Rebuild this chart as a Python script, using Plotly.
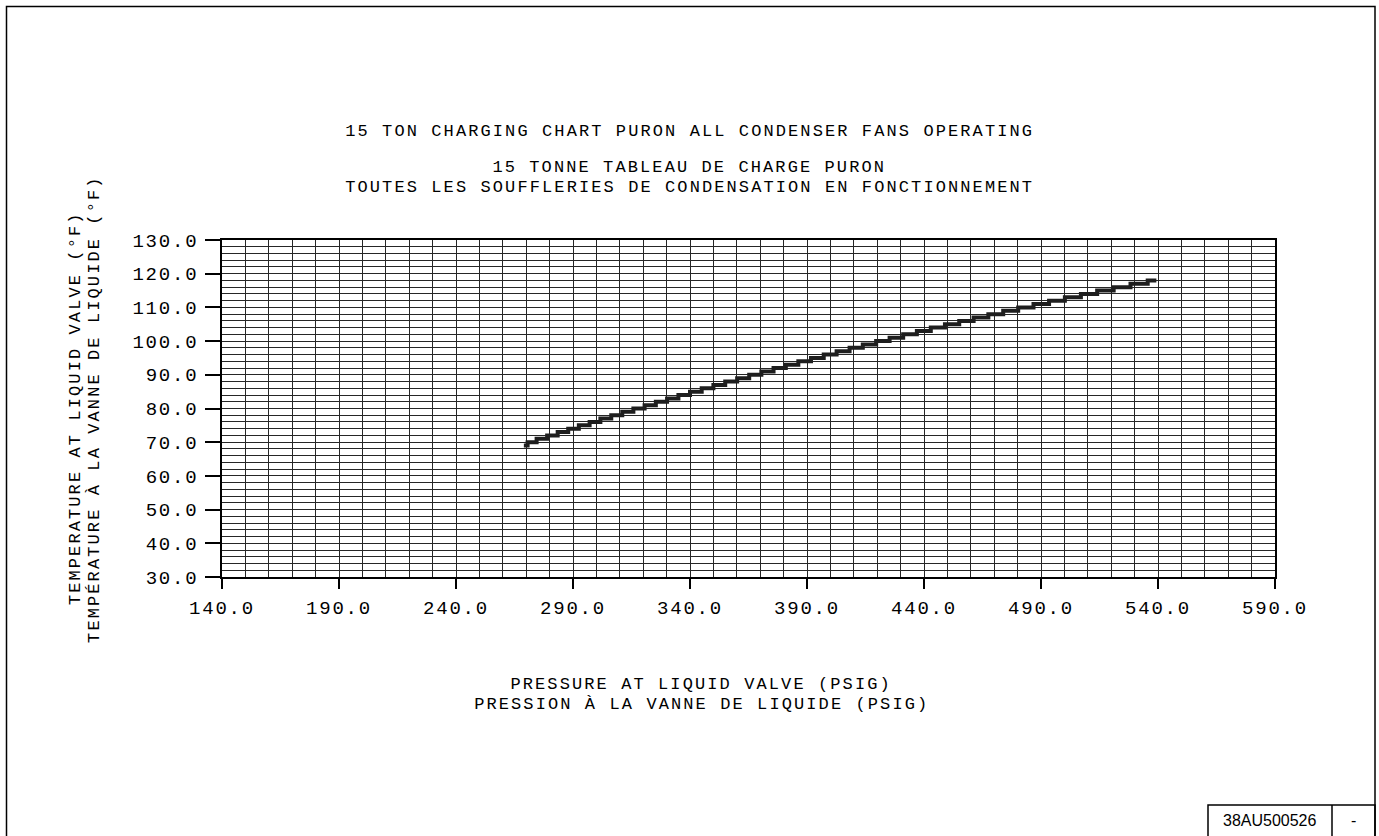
import plotly.graph_objects as go

# ---- data ----
pressure_psig = [269, 272.2, 276.7, 281.2, 285.7, 290.2, 294.8, 299.4, 304.0, 308.7,
                 313.4, 318.2, 323.0, 327.8, 332.6, 337.5, 342.5, 347.5, 352.5, 357.6,
                 362.7, 367.9, 373.1, 378.3, 383.6, 389.0, 394.4, 399.9, 405.4, 411.0,
                 416.7, 422.4, 428.2, 434.0, 439.9, 445.9, 452.0, 458.1, 464.3, 470.7,
                 477.0, 483.5, 490.1, 496.8, 503.6, 510.5, 517.5, 524.6, 531.9, 539.3]
temperature_f = [69, 70, 71, 72, 73, 74, 75, 76, 77, 78,
                 79, 80, 81, 82, 83, 84, 85, 86, 87, 88,
                 89, 90, 91, 92, 93, 94, 95, 96, 97, 98,
                 99, 100, 101, 102, 103, 104, 105, 106, 107, 108,
                 109, 110, 111, 112, 113, 114, 115, 116, 117, 118]
x_ticks = [140, 190, 240, 290, 340, 390, 440, 490, 540, 590]
y_ticks = [30, 40, 50, 60, 70, 80, 90, 100, 110, 120, 130]

title_lines = ["15 TON CHARGING CHART PURON ALL CONDENSER FANS OPERATING",
               "15 TONNE TABLEAU DE CHARGE PURON",
               "TOUTES LES SOUFFLERIES DE CONDENSATION EN FONCTIONNEMENT"]
x_title_lines = ["PRESSURE AT LIQUID VALVE (PSIG)",
                 "PRESSION À LA VANNE DE LIQUIDE (PSIG)"]
y_title_lines = ["TEMPERATURE AT LIQUID VALVE (°F)",
                 "TEMPÉRATURE À LA VANNE DE LIQUIDE (°F)"]
doc_number = "38AU500526"
doc_rev = "-"

# ---- layout geometry (pixels) ----
W, H = 1379, 836
L, R, T, B = 222, 1275, 240, 577
FONT = "Liberation Mono"
TXT = 17
TICK = 19


def px(x):
    return (x - L) / (R - L)


def py(y):
    return (B - y) / (B - T)


fig = go.Figure()
fig.add_trace(go.Scatter(
    x=pressure_psig, y=temperature_f, mode="lines",
    line=dict(color="#1e1e1e", width=4, shape="hvh"),
    showlegend=False, hoverinfo="x+y"))

grid = "#262626"
fig.update_layout(
    width=W, height=H,
    margin=dict(l=L, r=W - R, t=T, b=H - B),
    paper_bgcolor="white", plot_bgcolor="white",
    font=dict(family=FONT, size=TXT, color="black"),
    showlegend=False,
)
fig.update_xaxes(
    range=[140, 590], tickvals=x_ticks, ticktext=[f"{v:.1f}" for v in x_ticks],
    showgrid=True, gridcolor=grid, gridwidth=1.4,
    minor=dict(dtick=10, tick0=140, showgrid=True, gridcolor=grid, gridwidth=1.4),
    showline=True, mirror=True, linecolor="black", linewidth=1.5,
    ticks="outside", ticklen=10, tickcolor="black", tickwidth=1.5,
    ticklabelstandoff=2, zeroline=False,
    tickfont=dict(family=FONT, size=TICK, color="black"),
)
fig.update_yaxes(
    range=[30, 130], tickvals=y_ticks, ticktext=[f"{v:.1f}" for v in y_ticks],
    showgrid=True, gridcolor=grid, gridwidth=1.4,
    minor=dict(dtick=2, tick0=30, showgrid=True, gridcolor=grid, gridwidth=1.4),
    showline=True, mirror=True, linecolor="black", linewidth=1.5,
    ticks="outside", ticklen=15, tickcolor="black", tickwidth=1.5,
    ticklabelstandoff=3, zeroline=False,
    tickfont=dict(family=FONT, size=TICK, color="black"),
)

ann = []
for txt, yy in zip(title_lines, [131, 167.5, 187]):
    ann.append(dict(text=txt, x=px(689), y=py(yy), xref="paper", yref="paper",
                    xanchor="center", yanchor="middle", showarrow=False,
                    font=dict(family=FONT, size=TXT, color="black")))
for txt, yy in zip(x_title_lines, [684.5, 704]):
    ann.append(dict(text=txt, x=px(701), y=py(yy), xref="paper", yref="paper",
                    xanchor="center", yanchor="middle", showarrow=False,
                    font=dict(family=FONT, size=TXT, color="black")))
for txt, xx in zip(y_title_lines, [74.5, 94]):
    ann.append(dict(text=txt, x=px(xx), y=py(409), xref="paper", yref="paper",
                    xanchor="center", yanchor="middle", showarrow=False, textangle=-90,
                    font=dict(family=FONT, size=TXT, color="black")))
ann.append(dict(text=doc_number, x=px(1270), y=py(820), xref="paper", yref="paper",
                xanchor="center", yanchor="middle", showarrow=False,
                font=dict(family="Liberation Sans", size=16, color="black")))
ann.append(dict(text=doc_rev, x=px(1353), y=py(820), xref="paper", yref="paper",
                xanchor="center", yanchor="middle", showarrow=False,
                font=dict(family="Liberation Sans", size=16, color="black")))
fig.update_layout(annotations=ann)

shapes = [
    dict(type="rect", xref="paper", yref="paper", x0=px(6.5), x1=px(1375),
         y0=py(6.5), y1=py(850), line=dict(color="black", width=1.5)),
    dict(type="rect", xref="paper", yref="paper", x0=px(1208), x1=px(1375),
         y0=py(805), y1=py(850), line=dict(color="black", width=1.5)),
    dict(type="line", xref="paper", yref="paper", x0=px(1332), x1=px(1332),
         y0=py(805), y1=py(850), line=dict(color="black", width=1.5)),
]
fig.update_layout(shapes=shapes)

# drafting-style letter spacing for the monospace texts
post = """
document.body.style.margin='0';
document.body.style.overflow='hidden';
function spaceOut(){
  document.querySelectorAll('.annotation-text').forEach(function(t){
    if ((t.textContent||'').indexOf('38AU')<0 && t.textContent!=='-') {
      t.style.letterSpacing='2.1px';
    }
  });
  document.querySelectorAll('.xtick text, .ytick text').forEach(function(t){
    t.style.letterSpacing='1.8px';
  });
}
spaceOut();
var gd=document.getElementById('{plot_id}');
if (gd && gd.on) { gd.on('plotly_afterplot', spaceOut); }
"""

fig.write_html("out.html", config={"displayModeBar": False}, post_script=post)
